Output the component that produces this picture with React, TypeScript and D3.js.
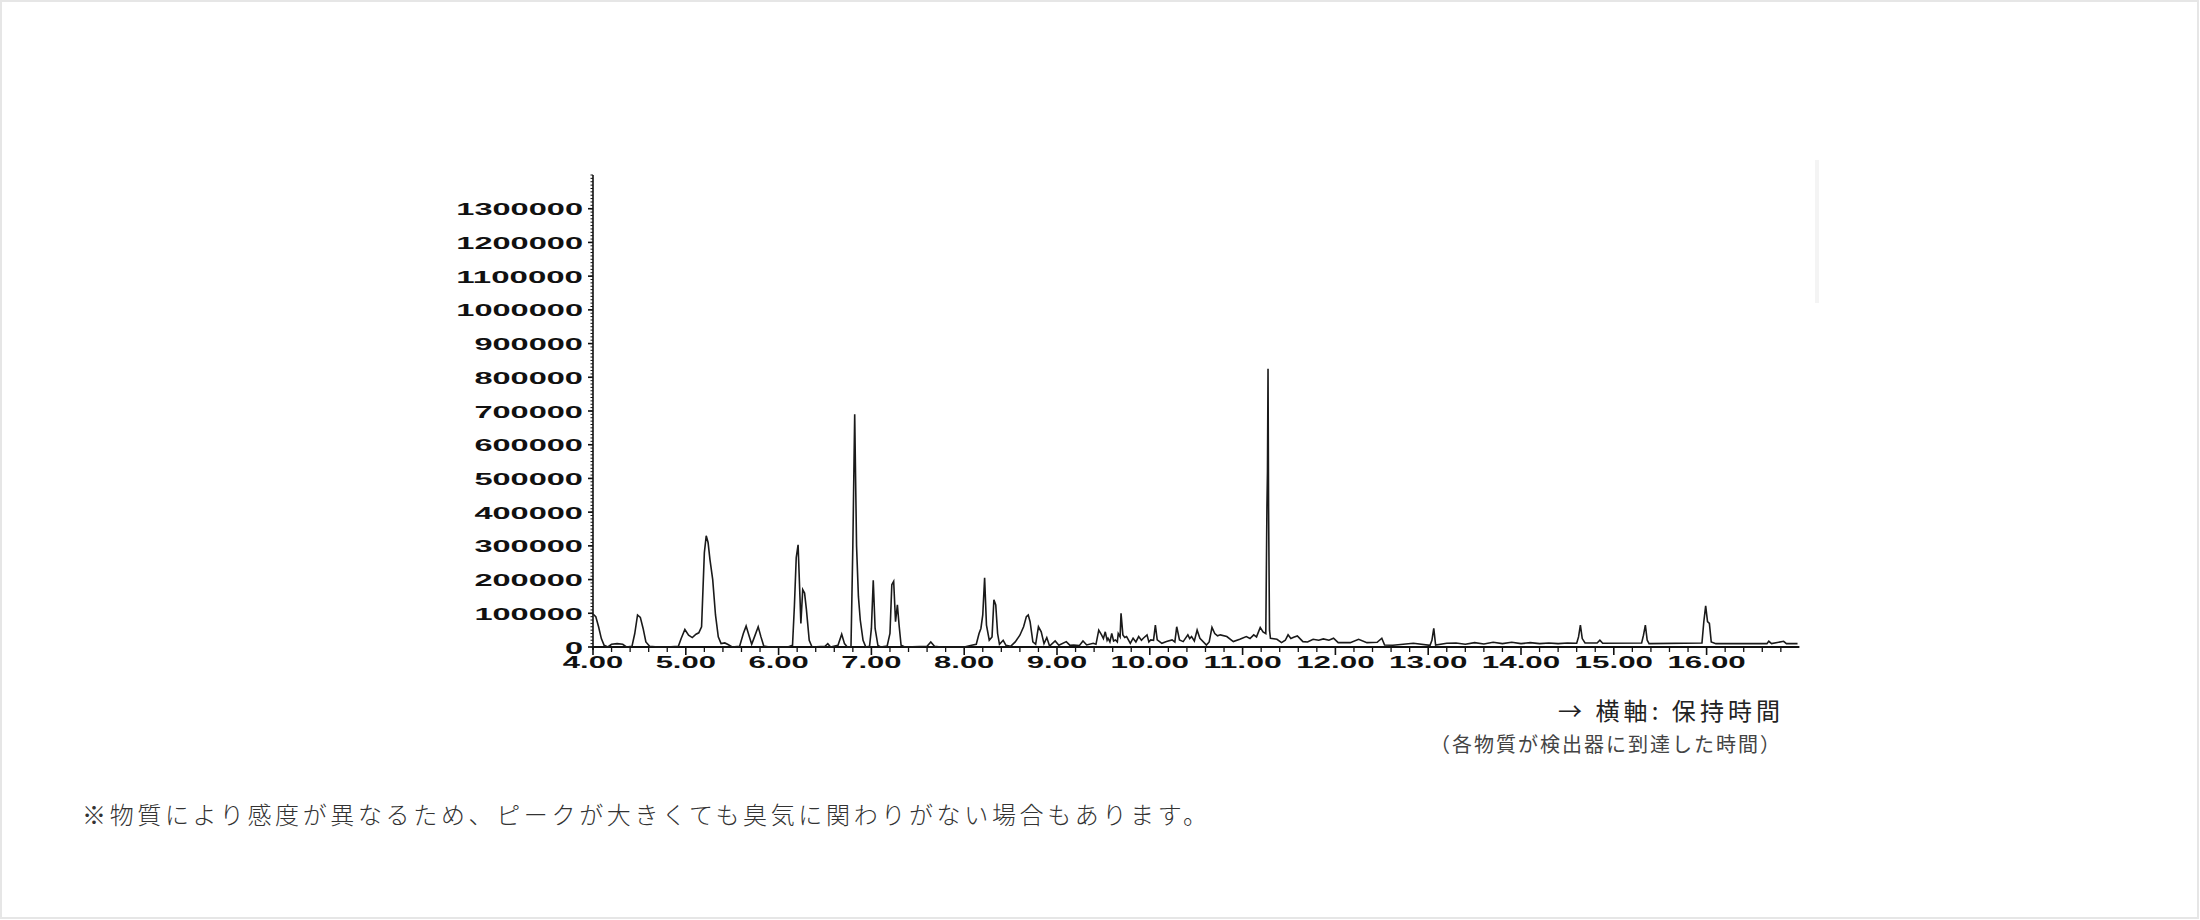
import React from "react";
import * as d3 from "d3";

// ---- Data (retention time in minutes, abundance) ----
const yTickValues = [0, 100000, 200000, 300000, 400000, 500000, 600000, 700000, 800000, 900000, 1000000, 1100000, 1200000, 1300000];
const xTickValues = [4, 5, 6, 7, 8, 9, 10, 11, 12, 13, 14, 15, 16];
const xTickLabels = ["4.00", "5.00", "6.00", "7.00", "8.00", "9.00", "10.00", "11.00", "12.00", "13.00", "14.00", "15.00", "16.00"];

const region4to6: [number, number][] = [
  [4.0, 98000], [4.03, 90000], [4.06, 60000], [4.09, 25000], [4.12, 5000], [4.16, 0],
  [4.2, 8000], [4.26, 10000], [4.32, 8000], [4.36, 0], [4.42, 2000], [4.45, 40000],
  [4.48, 95000], [4.51, 88000], [4.54, 55000], [4.57, 15000], [4.61, 2000], [4.7, 0],
  [4.8, 0], [4.92, 2000], [4.95, 25000], [4.99, 52000], [5.03, 35000], [5.07, 28000],
  [5.11, 38000], [5.14, 42000], [5.17, 60000], [5.2, 280000], [5.22, 330000], [5.24, 310000],
  [5.26, 260000], [5.29, 200000], [5.32, 95000], [5.35, 30000], [5.38, 10000], [5.42, 12000],
  [5.45, 8000], [5.5, 0], [5.58, 2000], [5.62, 40000], [5.65, 62000], [5.68, 35000],
  [5.71, 8000], [5.74, 30000], [5.78, 60000], [5.81, 30000], [5.84, 3000], [5.9, 0],
];

const region6to8: [number, number][] = [
  [6.1, 0], [6.15, 5000], [6.17, 120000], [6.19, 265000], [6.21, 303000], [6.23, 150000],
  [6.24, 70000], [6.26, 170000], [6.28, 160000], [6.3, 110000], [6.33, 20000], [6.36, 0],
  [6.5, 2000], [6.53, 10000], [6.56, 0], [6.64, 5000], [6.68, 38000], [6.71, 10000],
  [6.74, 0], [6.78, 0], [6.8, 300000], [6.82, 690000], [6.84, 300000], [6.86, 150000],
  [6.88, 80000], [6.91, 20000], [6.94, 0], [6.98, 2000], [7.0, 55000], [7.02, 198000],
  [7.04, 55000], [7.07, 5000], [7.1, 0], [7.17, 3000], [7.2, 40000], [7.22, 185000],
  [7.24, 195000], [7.26, 75000], [7.28, 125000], [7.3, 60000], [7.32, 5000], [7.36, 0],
  [7.6, 2000], [7.64, 15000], [7.68, 2000], [7.75, 0], [8.0, 0],
];

const region8to10: [number, number][] = [
  [8.08, 5000], [8.13, 8000], [8.16, 40000], [8.18, 55000], [8.2, 95000], [8.22, 205000],
  [8.24, 65000], [8.27, 20000], [8.3, 30000], [8.32, 140000], [8.34, 125000], [8.36, 40000],
  [8.38, 8000], [8.42, 20000], [8.45, 5000], [8.5, 2000], [8.55, 15000], [8.6, 35000],
  [8.64, 60000], [8.67, 90000], [8.69, 95000], [8.71, 75000], [8.74, 15000], [8.77, 8000],
  [8.8, 60000], [8.83, 45000], [8.86, 10000], [8.89, 28000], [8.92, 3000], [8.98, 18000],
  [9.02, 5000], [9.1, 16000], [9.14, 5000], [9.18, 6000], [9.24, 4000], [9.28, 18000],
  [9.32, 6000], [9.39, 11000], [9.42, 8000], [9.45, 50000], [9.48, 36000], [9.5, 25000],
  [9.52, 45000], [9.54, 20000], [9.55, 26000], [9.57, 15000], [9.59, 40000], [9.61, 18000],
  [9.63, 21000], [9.65, 15000], [9.66, 40000], [9.68, 30000], [9.69, 100000], [9.71, 36000],
  [9.73, 28000], [9.75, 31000], [9.79, 11000], [9.82, 26000], [9.85, 15000], [9.88, 31000],
  [9.91, 20000], [9.93, 26000], [9.97, 36000], [9.99, 15000],
];

const region10to12: [number, number][] = [
  [10.01, 21000], [10.04, 20000], [10.06, 65000], [10.08, 21000], [10.13, 11000], [10.18, 16000],
  [10.24, 21000], [10.27, 15000], [10.29, 60000], [10.32, 21000], [10.36, 16000], [10.41, 36000],
  [10.43, 25000], [10.45, 31000], [10.48, 18000], [10.51, 50000], [10.54, 26000], [10.61, 6000],
  [10.64, 15000], [10.67, 58000], [10.7, 40000], [10.73, 33000], [10.76, 36000], [10.83, 31000],
  [10.9, 16000], [10.97, 23000], [11.04, 31000], [11.08, 25000], [11.12, 36000], [11.15, 30000],
  [11.19, 58000], [11.22, 45000], [11.25, 40000], [11.262, 410000], [11.268, 520000],
  [11.274, 825000], [11.28, 410000], [11.29, 50000], [11.3, 26000], [11.37, 23000],
  [11.42, 13000], [11.46, 20000], [11.49, 36000], [11.52, 25000], [11.55, 29000], [11.59, 33000],
  [11.65, 16000], [11.7, 15000], [11.76, 23000], [11.82, 20000], [11.87, 24000], [11.93, 20000],
  [11.98, 26000],
];

const region12to17: [number, number][] = [
  [12.03, 13000], [12.16, 13000], [12.25, 23000], [12.34, 13000], [12.45, 14000], [12.5, 26000],
  [12.53, 6000], [12.62, 5000], [12.84, 11000], [13.02, 5000], [13.04, 20000], [13.06, 55000],
  [13.08, 6000], [13.2, 11000], [13.3, 12000], [13.4, 8000], [13.5, 13000], [13.6, 9000],
  [13.7, 14000], [13.8, 10000], [13.9, 14000], [14.0, 10000], [14.1, 13000], [14.2, 10000],
  [14.3, 12000], [14.4, 10000], [14.5, 12000], [14.6, 11000], [14.62, 30000], [14.64, 65000],
  [14.66, 25000], [14.69, 12000], [14.82, 12000], [14.85, 20000], [14.88, 11000], [15.3, 12000],
  [15.32, 35000], [15.34, 65000], [15.36, 20000], [15.38, 10000], [15.95, 12000], [15.97, 75000],
  [15.99, 122000], [16.01, 75000], [16.03, 70000], [16.05, 15000], [16.1, 10000], [16.65, 10000],
  [16.67, 17000], [16.7, 10000], [16.83, 17000], [16.86, 10000], [16.98, 10000],
];

const chromatogram = [...region4to6, ...region6to8, ...region8to10, ...region10to12, ...region12to17];

const axisCaption = "→ 横軸: 保持時間";
const axisSubCaption = "（各物質が検出器に到達した時間）";
const footnote = "※物質により感度が異なるため、ピークが大きくても臭気に関わりがない場合もあります。";

export default function App() {
  const x = d3.scaleLinear().domain([4, 17]).range([593, 1799.4]);
  const y = d3.scaleLinear().domain([0, 1400000]).range([647, 175]);
  const line = d3
    .line<[number, number]>()
    .x((d) => x(d[0]))
    .y((d) => y(d[1]));

  const yMinor = d3.range(0, 1400001, 10000);
  const xMinor = d3.range(0, 65).map((i) => 4 + i * 0.2).filter((t) => Math.abs(t - Math.round(t)) > 0.01);

  const tickFont = "'Liberation Sans', Arial, sans-serif";
  const labelWidth = (s: string) => {
    let w = 0;
    for (const c of s) w += c === "." ? 6 : 18.1;
    return w;
  };

  return (
    <svg
      width={2200}
      height={920}
      viewBox="0 0 2200 920"
      style={{ position: "absolute", left: 0, top: 0, background: "#fff" }}
    >
      <rect x={1} y={1} width={2197} height={917} fill="#fff" stroke="#e6e6e6" strokeWidth={2} />
      <rect x={1815} y={160} width={4} height={143} fill="#f4f4f4" />

      {/* Y axis */}
      <line x1={593} x2={593} y1={y(1400000)} y2={650} stroke="#111" strokeWidth={1.6} />
      {yMinor.map((v) => (
        <line key={"ym" + v} x1={590.5} x2={593} y1={y(v)} y2={y(v)} stroke="#111" strokeWidth={1} />
      ))}
      {yTickValues.map((v) => {
        const s = String(v);
        const w = labelWidth(s);
        return (
          <g key={"yt" + v}>
            <line x1={588} x2={593} y1={y(v)} y2={y(v)} stroke="#111" strokeWidth={1.6} />
            <text
              x={583 - w}
              y={y(v) + 6.5}
              textLength={w}
              lengthAdjust="spacingAndGlyphs"
              fontFamily={tickFont}
              fontWeight="bold"
              fontSize={17}
              fill="#111"
            >
              {s}
            </text>
          </g>
        );
      })}

      {/* X axis */}
      <line x1={593} x2={1799.4} y1={647} y2={647} stroke="#111" strokeWidth={2} />
      {xMinor.map((t) => (
        <line key={"xm" + t.toFixed(1)} x1={x(t)} x2={x(t)} y1={647} y2={652} stroke="#111" strokeWidth={1.3} />
      ))}
      {xTickValues.map((t, i) => {
        const s = xTickLabels[i];
        const w = labelWidth(s);
        return (
          <g key={"xt" + t}>
            <line x1={x(t)} x2={x(t)} y1={647} y2={655} stroke="#111" strokeWidth={1.6} />
            <text
              x={x(t) - w / 2}
              y={668}
              textLength={w}
              lengthAdjust="spacingAndGlyphs"
              fontFamily={tickFont}
              fontWeight="bold"
              fontSize={17}
              fill="#111"
            >
              {s}
            </text>
          </g>
        );
      })}

      {/* Chromatogram */}
      <path d={line(chromatogram) || ""} fill="none" stroke="#1a1a1a" strokeWidth={1.6} strokeLinejoin="miter" />

      {/* Captions */}
      <text
        x={1558}
        y={720}
        textLength={222}
        lengthAdjust="spacing"
        fontFamily="'Noto Sans CJK JP', sans-serif"
        fontSize={24}
        fill="#222"
      >
        {axisCaption}
      </text>
      <text
        x={1430}
        y={752}
        textLength={350}
        lengthAdjust="spacing"
        fontFamily="'Noto Sans CJK JP', sans-serif"
        fontSize={20}
        fill="#444"
      >
        {axisSubCaption}
      </text>
      <text
        x={82}
        y={824}
        textLength={1125}
        lengthAdjust="spacing"
        fontFamily="'Noto Sans CJK JP', sans-serif"
        fontWeight={300}
        fontSize={24}
        fill="#333"
      >
        {footnote}
      </text>
    </svg>
  );
}
